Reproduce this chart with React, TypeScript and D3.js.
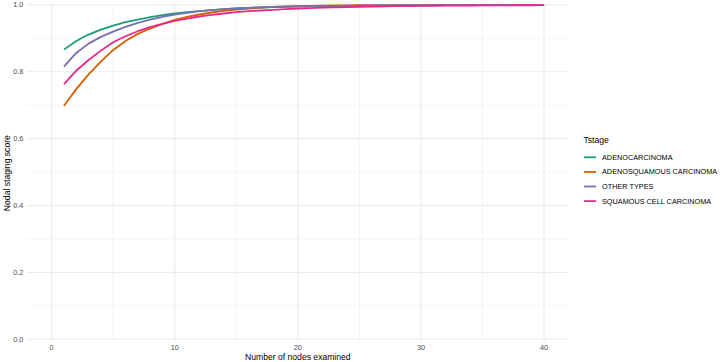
import { useMemo } from "react";
import * as d3 from "d3";

// the page keeps the browser's 8px body margin; drop it so the svg sits at 0,0
if (typeof document !== "undefined") document.body.style.margin = "0";

const nodes = d3.range(1, 41);

const seriesNames = [
  "ADENOCARCINOMA",
  "ADENOSQUAMOUS CARCINOMA",
  "OTHER TYPES",
  "SQUAMOUS CELL CARCINOMA",
];

const seriesColors = ["#1B9E77", "#D95F02", "#7570B3", "#E7298A"];

const adenocarcinoma = [
  0.866, 0.892, 0.911, 0.926, 0.938, 0.948, 0.956, 0.963, 0.969, 0.974,
  0.978, 0.981, 0.984, 0.987, 0.989, 0.9905, 0.992, 0.993, 0.994, 0.995,
  0.9955, 0.996, 0.9965, 0.997, 0.9973, 0.9976, 0.9979, 0.9981, 0.9983, 0.9985,
  0.9987, 0.9988, 0.9989, 0.999, 0.9991, 0.9992, 0.9993, 0.9993, 0.9994, 0.9994,
];

const adenosquamous = [
  0.698, 0.748, 0.792, 0.83, 0.865, 0.892, 0.913, 0.929, 0.943, 0.955,
  0.964, 0.971, 0.977, 0.982, 0.986, 0.989, 0.9915, 0.9935, 0.995, 0.996,
  0.9969, 0.9976, 0.9981, 0.9985, 0.9988, 0.999, 0.9992, 0.9994, 0.9995, 0.9996,
  0.9997, 0.9997, 0.9998, 0.9998, 0.9998, 0.9999, 0.9999, 0.9999, 0.9999, 0.9999,
];

const otherTypes = [
  0.815, 0.856, 0.884, 0.904, 0.92, 0.934, 0.946, 0.956, 0.964, 0.971,
  0.976, 0.981, 0.984, 0.987, 0.989, 0.991, 0.9925, 0.9935, 0.9945, 0.9953,
  0.996, 0.9965, 0.997, 0.9974, 0.9977, 0.998, 0.9982, 0.9984, 0.9986, 0.9988,
  0.9989, 0.999, 0.9991, 0.9992, 0.9993, 0.9994, 0.9994, 0.9995, 0.9995, 0.9996,
];

const squamous = [
  0.763, 0.803, 0.835, 0.863, 0.888, 0.906, 0.921, 0.933, 0.943, 0.952,
  0.959, 0.965, 0.97, 0.974, 0.978, 0.981, 0.983, 0.985, 0.987, 0.989,
  0.9903, 0.9914, 0.9924, 0.9932, 0.994, 0.9947, 0.9953, 0.9958, 0.9963, 0.9967,
  0.997, 0.9973, 0.9976, 0.9979, 0.9981, 0.9983, 0.9985, 0.9986, 0.9987, 0.9988,
];

const seriesValues = [adenocarcinoma, adenosquamous, otherTypes, squamous];

const xTicks = [0, 10, 20, 30, 40];
const xMinor = [5, 15, 25, 35];
const yTicks = [0, 0.2, 0.4, 0.6, 0.8, 1.0];
const yMinor = [0.1, 0.3, 0.5, 0.7, 0.9];

const W = 724;
const H = 362;
const panel = { left: 27, right: 568.7, top: 4.8, bottom: 341.5 };
const FONT = "'Liberation Sans', Arial, sans-serif";

export default function App() {
  const x = useMemo(
    () => d3.scaleLinear().domain([-2, 42]).range([panel.left, panel.right]),
    []
  );
  const y = useMemo(
    () => d3.scaleLinear().domain([0, 1]).range([339.3, 4.8]),
    []
  );

  const line = d3
    .line<number>()
    .x((_, i) => x(nodes[i]))
    .y((d) => y(d));

  const gridColor = "#EBEBEB";
  const legendX = 583.5;
  const legendY0 = 157.3;
  const legendStep = 14.6;

  return (
    <svg width={W} height={H} style={{ display: "block", background: "#fff" }}>
      {/* minor grid */}
      {yMinor.map((v) => (
        <line key={"ym" + v} x1={panel.left} x2={panel.right} y1={y(v)} y2={y(v)}
          stroke={gridColor} strokeWidth={0.55} />
      ))}
      {xMinor.map((v) => (
        <line key={"xm" + v} x1={x(v)} x2={x(v)} y1={panel.top} y2={panel.bottom}
          stroke={gridColor} strokeWidth={0.55} />
      ))}
      {/* major grid */}
      {yTicks.map((v) => (
        <line key={"y" + v} x1={panel.left} x2={panel.right} y1={y(v)} y2={y(v)}
          stroke={gridColor} strokeWidth={1.1} />
      ))}
      {xTicks.map((v) => (
        <line key={"x" + v} x1={x(v)} x2={x(v)} y1={panel.top} y2={panel.bottom}
          stroke={gridColor} strokeWidth={1.1} />
      ))}

      {/* lines */}
      {seriesValues.map((vals, i) => (
        <path key={seriesNames[i]} d={line(vals) ?? ""} fill="none"
          stroke={seriesColors[i]} strokeWidth={1.8} strokeLinejoin="round" />
      ))}

      {/* tick labels */}
      {yTicks.map((v) => (
        <text key={"yl" + v} x={23.3} y={y(v)} dy="0.35em" textAnchor="end"
          fontFamily={FONT} fontSize={7.3} fill="#4D4D4D">
          {d3.format(".1f")(v)}
        </text>
      ))}
      {xTicks.map((v) => (
        <text key={"xl" + v} x={x(v)} y={347} dy="0.35em" textAnchor="middle"
          fontFamily={FONT} fontSize={7.3} fill="#4D4D4D">
          {v}
        </text>
      ))}

      {/* axis titles */}
      <text x={(panel.left + panel.right) / 2} y={357} dy="0.35em" textAnchor="middle"
        fontFamily={FONT} fontSize={8.6} fill="#000">
        Number of nodes examined
      </text>
      <text transform={`translate(6.5,${(panel.top + panel.bottom) / 2}) rotate(-90)`}
        dy="0.35em" textAnchor="middle" fontFamily={FONT} fontSize={8.6} fill="#000">
        Nodal staging score
      </text>

      {/* legend */}
      <text x={legendX} y={140} dy="0.35em" fontFamily={FONT} fontSize={8.6} fill="#000">
        Tstage
      </text>
      {seriesNames.map((name, i) => (
        <g key={"lg" + name} transform={`translate(0,${legendY0 + i * legendStep})`}>
          <line x1={584} x2={596} y1={0} y2={0} stroke={seriesColors[i]} strokeWidth={1.8} />
          <text x={602} y={0} dy="0.35em" fontFamily={FONT} fontSize={7.3} fill="#000">
            {name}
          </text>
        </g>
      ))}
    </svg>
  );
}
